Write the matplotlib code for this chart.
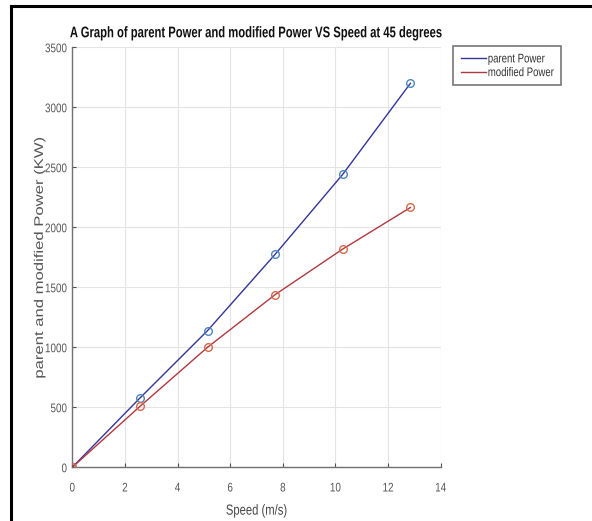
import matplotlib
matplotlib.use("Agg")
import matplotlib.pyplot as plt
from matplotlib.lines import Line2D
from matplotlib.patheffects import AbstractPathEffect
from matplotlib.transforms import Affine2D

speed = [0, 2.57, 5.14, 7.71, 10.28, 12.85]
parent_power = [0, 577, 1139, 1775, 2442, 3200]
modified_power = [0, 507, 1000, 1439, 1819, 2165]
series_labels = ["parent Power", "modified Power"]
title = "A Graph of parent Power and modified Power VS Speed at 45 degrees"
xlabel = "Speed (m/s)"
ylabel = "parent and modified Power (KW)"
xticks = [0, 2, 4, 6, 8, 10, 12, 14]
yticks = [0, 500, 1000, 1500, 2000, 2500, 3000, 3500]

FONT = ["Liberation Sans", "DejaVu Sans"]


class Stretch(AbstractPathEffect):
    """Scale drawn glyphs in display space (text stays real text)."""

    def __init__(self, sx=1.0, sy=1.0, ax_anchor="center", ay_anchor="center"):
        super().__init__()
        self.sx, self.sy = sx, sy
        self.ax_anchor, self.ay_anchor = ax_anchor, ay_anchor

    def draw_path(self, renderer, gc, tpath, affine, rgbFace=None):
        ext = tpath.get_extents(affine)
        cx = {"left": ext.x0, "right": ext.x1}.get(self.ax_anchor, (ext.x0 + ext.x1) / 2)
        cy = {"bottom": ext.y0, "top": ext.y1}.get(self.ay_anchor, (ext.y0 + ext.y1) / 2)
        tr = affine + Affine2D().translate(-cx, -cy).scale(self.sx, self.sy).translate(cx, cy)
        renderer.draw_path(gc, tpath, tr, rgbFace)


fig = plt.figure(figsize=(5.92, 5.21), dpi=100)
ax = fig.add_axes([0.1221, 0.1031, 0.6223, 0.8061])

line_blue = "#34349a"
line_red = "#b0383e"
mk_blue = "#4a86c0"
mk_red = "#d9684a"

ax.plot(speed, parent_power, color=line_blue, lw=1.0, label=series_labels[0], zorder=3)
ax.plot(speed, modified_power, color=line_red, lw=1.0, label=series_labels[1], zorder=3)
ax.plot(speed, parent_power, linestyle="none", marker="o", mfc="none", mec=mk_blue, ms=5.5, mew=1.0, zorder=4)
ax.plot(speed, modified_power, linestyle="none", marker="o", mfc="none", mec=mk_red, ms=5.5, mew=1.0, zorder=4)

ax.set_xlim(0, 14)
ax.set_ylim(0, 3500)
ax.set_xticks(xticks)
ax.set_yticks(yticks)
ax.grid(True, color="#e4e4e4", lw=0.8)
ax.set_axisbelow(True)
for s in ["top", "right"]:
    ax.spines[s].set_visible(False)
for s in ["left", "bottom"]:
    ax.spines[s].set_color("#707070")
    ax.spines[s].set_linewidth(1.0)
ax.tick_params(direction="in", length=3, color="#505050", labelcolor="#555555", labelsize=7.1)
ax.tick_params(axis="x", pad=11.0)
ax.tick_params(axis="y", pad=3.8)
tick_fx = [Stretch(sy=1.27)]
for lab in ax.get_xticklabels() + ax.get_yticklabels():
    lab.set_family(FONT)
    lab.set_path_effects(tick_fx)

ax.set_title(title, family=FONT, fontweight="bold", fontsize=8.1, color="#111111", pad=8,
             path_effects=[Stretch(sy=1.37)])
ax.set_xlabel(xlabel, family=FONT, fontsize=8.1, color="#444444", labelpad=9.5,
              path_effects=[Stretch(sy=1.3)])
ax.set_ylabel(ylabel, family=FONT, fontsize=12, color="#555555",
              path_effects=[Stretch(sx=0.75, ax_anchor="right")])
ax.yaxis.set_label_coords(-0.074, 0.5)

leg = ax.legend(loc="upper left", bbox_to_anchor=(1.033, 1.003), frameon=True, fancybox=False,
                prop={"family": FONT, "size": 6.9}, handlelength=2.7, handletextpad=0.15,
                borderpad=0.8, labelspacing=0.35, borderaxespad=0.0)
leg.get_frame().set_edgecolor("#555555")
leg.get_frame().set_linewidth(1.2)
for t in leg.get_texts():
    t.set_color("#333333")
    t.set_path_effects([Stretch(sy=1.3)])

# black frame on left and top (screenshot border)
fig.add_artist(Line2D([0.018, 0.018], [0, 0.988], transform=fig.transFigure, color="black", lw=2.2))
fig.add_artist(Line2D([0.018, 1.0], [0.988, 0.988], transform=fig.transFigure, color="black", lw=2.2))

fig.savefig("out.png", dpi=100)
